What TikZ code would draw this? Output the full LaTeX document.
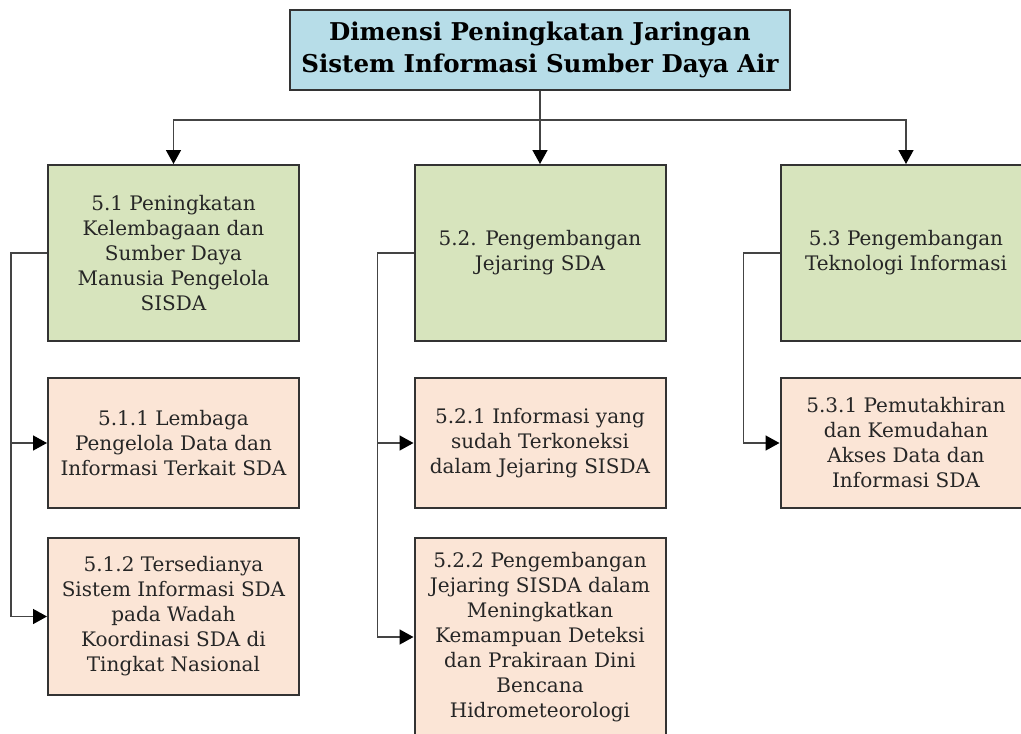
\documentclass[tikz,border=0pt]{standalone}
\usepackage{fontspec}
\setmainfont{DejaVu Serif}
\usetikzlibrary{arrows.meta}
\definecolor{titlefill}{HTML}{B7DDE8}
\definecolor{greenfill}{HTML}{D7E4BD}
\definecolor{peachfill}{HTML}{FBE5D6}
\definecolor{edge}{HTML}{333333}
\definecolor{wire}{HTML}{444444}
\tikzset{
  box/.style={draw=edge, line width=2pt, align=center, inner sep=2pt,
    minimum width=251pt, font=\fontsize{20}{25}\selectfont, text=black!85},
  titlebox/.style={box, fill=titlefill, minimum width=500pt, minimum height=80pt,
    font=\fontsize{24.5}{32}\selectfont\bfseries, text=black},
  dimbox/.style={box, fill=greenfill, minimum height=176pt},
  subbox/.style={box, fill=peachfill},
  link/.style={draw=wire, line width=1.5pt,
    -{Triangle[length=14pt,width=15pt,color=black]}},
}
\begin{document}
\begin{tikzpicture}[x=1pt,y=-1pt]
\clip (0,0) rectangle (1021,734);
\fill[white] (0,0) rectangle (1021,734);

% root
\node[titlebox] (root) at (540,50) {Dimensi Peningkatan Jaringan\\Sistem Informasi Sumber Daya Air};

% three dimensions
\node[dimbox] (d1) at (173.5,253) {5.1 Peningkatan\\Kelembagaan dan\\Sumber Daya\\Manusia Pengelola\\SISDA};
\node[dimbox] (d2) at (540,253) {5.2. Pengembangan\\Jejaring SDA};
\node[dimbox] (d3) at (906,253) {5.3 Pengembangan\\Teknologi Informasi};

% sub-items
\node[subbox, minimum height=130pt] (s11) at (173.5,443) {5.1.1 Lembaga\\Pengelola Data dan\\Informasi Terkait SDA};
\node[subbox, minimum height=157pt] (s12) at (173.5,616.5) {5.1.2 Tersedianya\\Sistem Informasi SDA\\pada Wadah\\Koordinasi SDA di\\Tingkat Nasional};
\node[subbox, minimum height=130pt] (s21) at (540,443) {5.2.1 Informasi yang\\sudah Terkoneksi\\dalam Jejaring SISDA};
\node[subbox, minimum height=198pt] (s22) at (540,637) {5.2.2 Pengembangan\\Jejaring SISDA dalam\\Meningkatkan\\Kemampuan Deteksi\\dan Prakiraan Dini\\Bencana\\Hidrometeorologi};
\node[subbox, minimum height=130pt] (s31) at (906,443) {5.3.1 Pemutakhiran\\dan Kemudahan\\Akses Data dan\\Informasi SDA};

% root to dimensions
\coordinate (bus) at (540,120);
\draw[link] (root.south) -- (d2.north);
\draw[link] (bus) -| (d1.north);
\draw[link] (bus) -| (d3.north);

% dimensions to sub-items
\draw[link] (d1.west) -- ++(-36,0) |- (s11.west);
\draw[link] (d1.west) -- ++(-36,0) |- (s12.west);
\draw[link] (d2.west) -- ++(-36,0) |- (s21.west);
\draw[link] (d2.west) -- ++(-36,0) |- (s22.west);
\draw[link] (d3.west) -- ++(-36,0) |- (s31.west);
\end{tikzpicture}
\end{document}
